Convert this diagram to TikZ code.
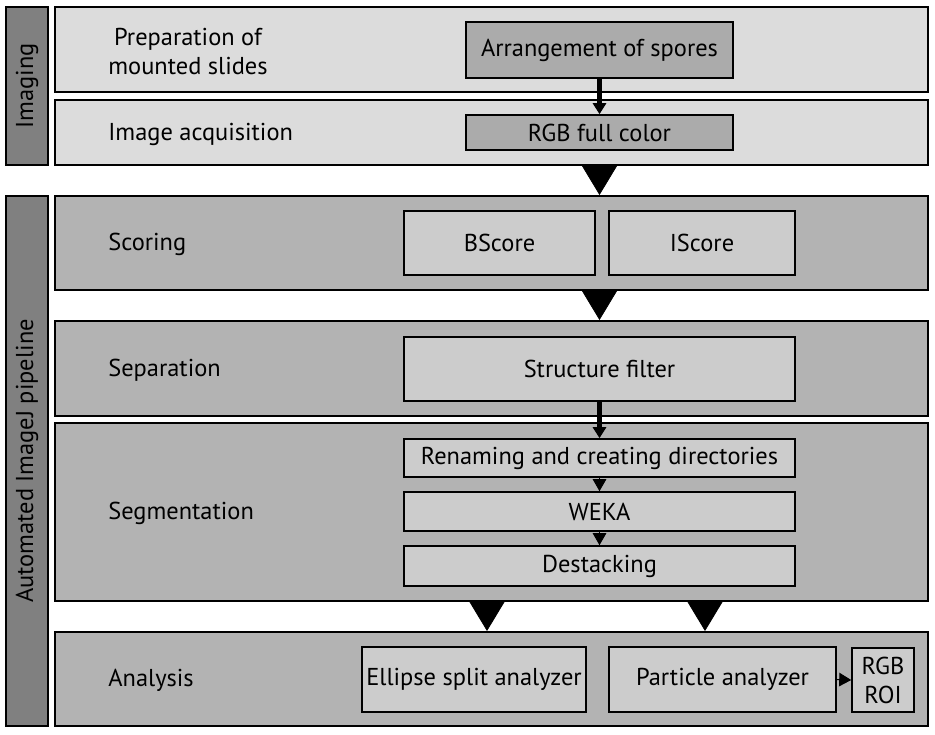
\documentclass[tikz,border=0pt]{standalone}
\usepackage{fontspec}
\setmainfont{PT Sans}
\usetikzlibrary{arrows.meta, positioning, calc}

\definecolor{barGray}{HTML}{808080}
\definecolor{panelLight}{HTML}{DCDCDC}
\definecolor{panelMid}{HTML}{B3B3B3}
\definecolor{boxLight}{HTML}{CCCCCC}
\definecolor{boxDark}{HTML}{ABABAB}

\begin{document}
\begin{tikzpicture}[font=\fontsize{13.9}{16.5}\selectfont]
    \tikzstyle{sidebar} = [rectangle, draw=black, line width=1.1pt, fill=barGray, minimum height=0.84cm, inner sep=0pt, rotate=90]
    \tikzstyle{panel} = [rectangle, draw=black, line width=1.1pt, minimum width=17.46cm, inner sep=0pt]
    \tikzstyle{lightpanel} = [panel, fill=panelLight]
    \tikzstyle{midpanel} = [panel, fill=panelMid]
    \tikzstyle{stepbox} = [rectangle, draw=black, line width=0.9pt, fill=boxLight, inner sep=0pt, text centered]
    \tikzstyle{darkbox} = [stepbox, fill=boxDark]
    \tikzstyle{stagetext} = [anchor=west, inner sep=0pt, align=center]
    \tikzstyle{arrow} = [line width=2.3pt, -{Triangle[length=0.22cm, width=0.26cm]}]
    \tikzstyle{tiparrow} = [line width=0.6pt, -{Triangle[length=0.24cm, width=0.27cm]}]
    \tikzstyle{bigarrow} = [line width=0.4pt, -{Triangle[length=0.6cm, width=0.72cm]}]

    \useasboundingbox (0,0) rectangle (18.7,-14.68);

    % side bars
    \node[sidebar, minimum width=3.16cm] (imaging) at (0.54,-1.72) {Imaging};
    \node[sidebar, minimum width=10.6cm] (pipeline) at (0.54,-9.22) {Automated ImageJ pipeline};

    % stage panels
    \node[lightpanel, minimum height=1.7cm] (prep) at (9.83,-0.99) {};
    \node[lightpanel, minimum height=1.3cm] (acq) at (9.83,-2.65) {};
    \node[midpanel, minimum height=1.88cm] (scoring) at (9.83,-4.86) {};
    \node[midpanel, minimum height=1.9cm] (separation) at (9.83,-7.37) {};
    \node[midpanel, minimum height=3.56cm] (segment) at (9.83,-10.24) {};
    \node[midpanel, minimum height=1.88cm] (analysis) at (9.83,-13.58) {};

    \node[stagetext] (preptext) at (2.16,-1.02) {Preparation of\\mounted slides};
    \node[stagetext] (acqtext) at (2.16,-2.68) {Image acquisition};
    \node[stagetext] (scoringtext) at (2.16,-4.89) {Scoring};
    \node[stagetext] (separationtext) at (2.16,-7.40) {Separation};
    \node[stagetext] (segmenttext) at (2.16,-10.27) {Segmentation};
    \node[stagetext] (analysistext) at (2.16,-13.61) {Analysis};

    % steps
    \node[darkbox, minimum width=5.34cm, minimum height=1.12cm] (arrange) at (11.99,-1.0) {Arrangement of spores};
    \node[darkbox, minimum width=5.34cm, minimum height=0.7cm] (rgbfull) at (11.99,-2.65) {RGB full color};
    \node[stepbox, minimum width=3.82cm, minimum height=1.28cm] (bscore) at (9.99,-4.86) {BScore};
    \node[stepbox, minimum width=3.72cm, minimum height=1.28cm] (iscore) at (14.04,-4.86) {IScore};
    \node[stepbox, minimum width=7.82cm, minimum height=1.28cm] (structure) at (11.99,-7.38) {Structure filter};
    \node[stepbox, minimum width=7.82cm, minimum height=0.76cm] (renaming) at (11.99,-9.16) {Renaming and creating directories};
    \node[stepbox, minimum width=7.82cm, minimum height=0.78cm] (weka) at (11.99,-10.23) {WEKA};
    \node[stepbox, minimum width=7.82cm, minimum height=0.8cm] (destack) at (11.99,-11.32) {Destacking};
    \node[stepbox, minimum width=4.48cm, minimum height=1.3cm] (ellipse) at (9.48,-13.59) {Ellipse split analyzer};
    \node[stepbox, minimum width=4.54cm, minimum height=1.3cm] (particle) at (14.45,-13.59) {Particle analyzer};
    \node[stepbox, minimum width=1.24cm, minimum height=1.28cm, align=center] (rgbroi) at (17.66,-13.6) {RGB\\ROI};

    % connectors
    \draw[arrow] (arrange.south) -- (rgbfull.north);
    \draw[bigarrow] (acq.south -| arrange) -- (scoring.north -| arrange);
    \draw[bigarrow] (scoring.south -| structure) -- (separation.north -| structure);
    \draw[arrow] (structure.south) -- (renaming.north);
    \draw[tiparrow] (renaming.south) -- (weka.north);
    \draw[tiparrow] (weka.south) -- (destack.north);
    \draw[bigarrow] ([xshift=-0.09cm]segment.south) -- ([xshift=-0.09cm]analysis.north);
    \draw[bigarrow] ([xshift=4.27cm]segment.south) -- ([xshift=4.27cm]analysis.north);
    \draw[tiparrow] (particle.east) -- (rgbroi.west);
\end{tikzpicture}
\end{document}
